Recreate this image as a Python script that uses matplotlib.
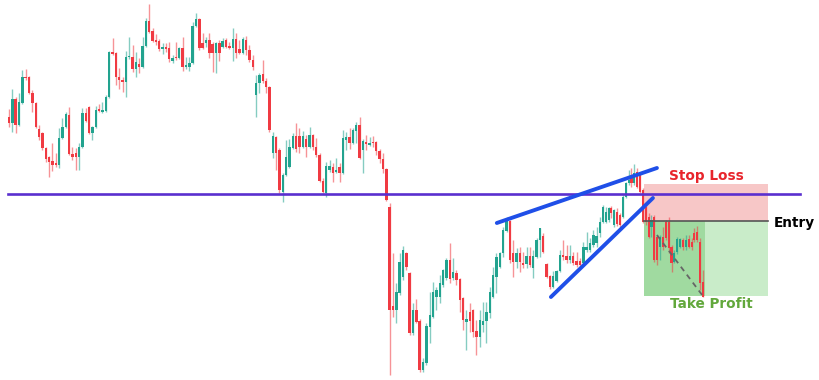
import numpy as np
import matplotlib
matplotlib.use("Agg")
import matplotlib.pyplot as plt
from matplotlib.patches import Rectangle

opens = [117, 123, 99, 125, 103, 77, 77, 93, 103, 129,
         133, 148, 157, 161, 163, 165, 138, 127, 115, 154,
         153, 157, 147, 113, 107, 133, 127, 109, 112, 111,
         97, 52, 53, 77, 80, 82, 57, 57, 69, 64,
         67, 46, 21, 31, 40, 41, 49, 47, 48, 61,
         57, 58, 48, 67, 67, 63, 26, 19, 43, 43,
         40, 44, 53, 43, 47, 40, 46, 48, 39, 49,
         53, 40, 50, 60, 95, 83, 74, 81, 87, 153,
         137, 150, 192, 175, 167, 148, 136, 136, 147, 139,
         147, 135, 147, 155, 181, 193, 170, 167, 172, 167,
         173, 140, 137, 143, 131, 125, 150, 142, 145, 142,
         142, 151, 159, 169, 207, 306, 310, 293, 277, 253,
         273, 333, 310, 321, 370, 363, 327, 317, 297, 297,
         285, 278, 260, 278, 273, 279, 298, 322, 312, 310,
         331, 337, 325, 321, 313, 297, 277, 267, 253, 231,
         221, 253, 262, 253, 263, 264, 256, 268, 257, 240,
         236, 264, 276, 287, 281, 271, 255, 256, 260, 256,
         261, 261, 263, 250, 250, 245, 243, 233, 222, 222,
         220, 208, 225, 212, 215, 217, 197, 183, 178, 183,
         172, 173, 190, 207, 217, 227, 217, 237, 247, 237,
         222, 222, 247, 262, 252, 247, 240, 247, 239, 242,
         233, 232, 242, 282]
highs = [109, 89, 97, 93, 70, 69, 76, 90, 102, 125,
         132, 147, 156, 143, 153, 128, 118, 112, 107, 147,
         148, 143, 108, 108, 106, 126, 106, 104, 102, 95,
         51, 38, 52, 68, 77, 51, 37, 45, 52, 58,
         37, 18, 4, 28, 34, 39, 43, 43, 42, 55,
         42, 47, 37, 57, 57, 22, 13, 18, 33, 37,
         33, 42, 42, 40, 38, 38, 42, 28, 33, 40,
         37, 36, 45, 55, 75, 73, 60, 78, 86, 132,
         136, 148, 173, 140, 139, 133, 123, 128, 131, 135,
         127, 134, 138, 153, 178, 162, 160, 163, 158, 163,
         130, 132, 128, 128, 122, 117, 139, 135, 137, 136,
         141, 149, 153, 168, 203, 253, 283, 253, 246, 252,
         272, 303, 299, 319, 358, 323, 292, 282, 287, 275,
         269, 258, 243, 258, 270, 278, 297, 310, 303, 309,
         320, 310, 302, 302, 287, 267, 253, 252, 227, 217,
         220, 240, 248, 247, 252, 247, 247, 250, 238, 228,
         233, 263, 275, 271, 270, 250, 240, 245, 245, 252,
         252, 258, 242, 232, 238, 230, 227, 217, 205, 207,
         207, 206, 209, 208, 213, 195, 182, 170, 168, 164,
         168, 172, 188, 203, 213, 215, 215, 235, 235, 227,
         220, 217, 245, 250, 237, 238, 238, 235, 235, 238,
         228, 226, 238, 270]
lows = [127, 132, 133, 126, 104, 80, 94, 112, 128, 140,
        150, 162, 177, 171, 167, 168, 139, 128, 155, 160,
        170, 170, 148, 122, 134, 140, 128, 112, 113, 112,
        98, 55, 85, 89, 92, 97, 59, 72, 77, 73,
        68, 47, 33, 42, 45, 51, 54, 52, 62, 63,
        60, 59, 71, 69, 71, 64, 27, 50, 49, 47,
        58, 72, 73, 61, 48, 48, 49, 61, 58, 54,
        54, 55, 62, 70, 117, 93, 83, 93, 132, 158,
        170, 193, 202, 176, 168, 149, 152, 153, 148, 157,
        148, 150, 157, 182, 193, 197, 172, 182, 173, 182,
        174, 150, 149, 144, 143, 159, 173, 150, 146, 147,
        155, 163, 173, 201, 375, 317, 323, 295, 280, 270,
        335, 335, 323, 372, 372, 365, 343, 318, 310, 303,
        287, 280, 283, 280, 285, 312, 330, 350, 332, 337,
        355, 347, 332, 343, 318, 298, 293, 268, 257, 232,
        263, 277, 268, 272, 268, 268, 267, 278, 258, 257,
        253, 278, 289, 288, 282, 272, 260, 263, 263, 265,
        267, 267, 265, 252, 252, 247, 247, 237, 223, 223,
        222, 218, 227, 226, 227, 218, 198, 185, 187, 185,
        188, 193, 223, 225, 238, 237, 262, 265, 260, 250,
        240, 253, 272, 263, 254, 248, 250, 250, 248, 250,
        242, 242, 290, 297]
closes = [123, 99, 125, 102, 77, 78, 93, 103, 127, 137,
          148, 159, 162, 165, 165, 138, 127, 114, 154, 157,
          157, 147, 113, 121, 133, 127, 110, 111, 110, 97,
          52, 54, 77, 80, 82, 57, 56, 69, 62, 67,
          46, 21, 32, 41, 42, 49, 47, 49, 59, 58,
          58, 48, 67, 65, 63, 26, 19, 48, 48, 40,
          53, 53, 43, 53, 41, 47, 48, 39, 53, 53,
          39, 50, 60, 67, 83, 75, 81, 87, 130, 136,
          153, 190, 175, 157, 147, 136, 149, 147, 136, 147,
          135, 147, 155, 181, 192, 166, 166, 173, 170, 173,
          138, 137, 143, 130, 125, 158, 141, 144, 143, 143,
          151, 159, 169, 200, 310, 310, 292, 262, 250, 267,
          333, 310, 322, 370, 362, 326, 315, 292, 290, 283,
          270, 260, 279, 272, 280, 300, 320, 319, 321, 332,
          337, 320, 321, 312, 292, 275, 257, 253, 230, 220,
          260, 262, 253, 262, 265, 256, 265, 256, 240, 228,
          252, 277, 287, 276, 271, 255, 257, 260, 256, 263,
          265, 265, 247, 247, 243, 235, 236, 222, 207, 212,
          208, 213, 210, 224, 225, 197, 183, 180, 183, 173,
          187, 192, 222, 222, 237, 220, 260, 260, 237, 247,
          238, 248, 263, 253, 239, 239, 247, 240, 247, 247,
          240, 240, 283, 297]

# trade levels and pattern lines (candle index, level)
support_level = 193.5
stop_level = 184
entry_level = 221
target_level = 296
trade_start, trade_exit, trade_end = 192.4, 213.7, 235.7
upper_wedge = ([146.1, 196.9], [223, 168])
lower_wedge = ([162.3, 195.5], [297, 198])
path_line = ([196.9, 212.7], [235, 295])

# the screenshot squeezes the last bars, so the time axis is piecewise linear
time_knots = [-10, 0, 177, 213, 260]
screen_knots = [9 - 10 * 3.34, 9, 600, 703, 703 + 47 * 2.86]


def fwd(v):
    return np.interp(v, time_knots, screen_knots)


def inv(v):
    return np.interp(v, screen_knots, time_knots)


UP = "#22a38f"
DOWN = "#f03a42"

fig = plt.figure(figsize=(8.2, 3.8), dpi=100)
ax = fig.add_axes([0, 0, 1, 1])
ax.set_xscale("function", functions=(fwd, inv))

x = np.arange(len(opens))
o = np.array(opens)
c = np.array(closes)
up = c < o  # axis is top-down
colors = np.where(up, UP, DOWN)

ax.vlines(x, highs, lows, colors=colors, linewidth=1.0, alpha=0.55, zorder=2)
body_bottom = np.maximum(o, c)
body_h = np.maximum(np.abs(o - c), 1.2)
ax.bar(x, -body_h, bottom=body_bottom, width=0.72, color=colors,
       linewidth=0, zorder=3)

# trade boxes
ax.add_patch(Rectangle((trade_start, stop_level), trade_end - trade_start,
                       entry_level - stop_level, facecolor="#f5b5b5",
                       alpha=0.75, edgecolor="none", zorder=1))
ax.add_patch(Rectangle((trade_start, entry_level), trade_exit - trade_start,
                       target_level - entry_level, facecolor="#8fd48f",
                       alpha=0.85, edgecolor="none", zorder=1))
ax.add_patch(Rectangle((trade_exit, entry_level), trade_end - trade_exit,
                       target_level - entry_level, facecolor="#c9ecc9",
                       edgecolor="none", zorder=1))
ax.plot([trade_start, trade_end], [entry_level, entry_level],
        color="#555555", linewidth=1.2, zorder=4)

ax.axhline(support_level, xmin=8 / 820, xmax=800 / 820, color="#5a2fcf",
           linewidth=1.9, zorder=4)

ax.plot(*upper_wedge, color="#1f4fe8", linewidth=2.8, solid_capstyle="round", zorder=5)
ax.plot(*lower_wedge, color="#1f4fe8", linewidth=2.8, solid_capstyle="round", zorder=5)
ax.plot(*path_line, color="#666666", linewidth=1.3, linestyle=(0, (3, 2.5)), zorder=5)

ax.text(214.1, 176, "Stop Loss", color="#e8252c", fontsize=9.8,
        fontweight="bold", ha="center", va="center")
ax.text(237.8, 222.5, "Entry", color="black", fontsize=9.8,
        fontweight="bold", ha="left", va="center")
ax.text(215.8, 304, "Take Profit", color="#62a83c", fontsize=9.8,
        fontweight="bold", ha="center", va="center")

ax.set_xlim(inv(0), inv(820))
ax.set_ylim(380, 0)
ax.axis("off")

fig.savefig("out.png", dpi=100, facecolor="white")
